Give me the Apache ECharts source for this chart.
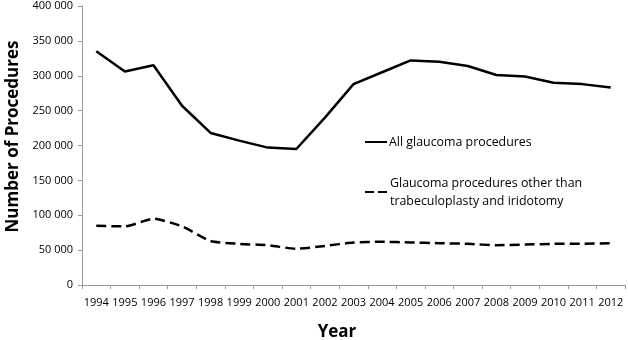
<!DOCTYPE html>
<html><head><meta charset="utf-8">
<script src="https://cdn.jsdelivr.net/npm/echarts@6/dist/echarts.min.js"></script>
<style>html,body{margin:0;padding:0;background:#fff}#c{width:628px;height:340px}</style>
</head><body><div id="c"></div>
<script>
var years = ['1994','1995','1996','1997','1998','1999','2000','2001','2002','2003','2004','2005','2006','2007','2008','2009','2010','2011','2012'];
var allProcedures = [335000,306000,315000,257000,218000,207000,197000,195000,240000,288000,305000,322000,320000,314000,301000,299000,290000,288000,283000];
var otherProcedures = [85000,84000,95000,84000,63000,59000,57000,52000,56000,61000,62000,61000,60000,59000,57000,58000,59000,59000,60000];
var yTicks = {min:0, max:400000, interval:50000};
var seriesNames = ['All glaucoma procedures','Glaucoma procedures other than trabeculoplasty and iridotomy'];

var FONT = '"Open Sans", sans-serif';
var chart = echarts.init(document.getElementById('c'), null, {renderer:'canvas'});
chart.setOption({
  animation:false,
  backgroundColor:'#fff',
  grid:{left:82,right:3,top:6,bottom:55,containLabel:false,outerBoundsMode:'none'},
  legend:[{
    data:[seriesNames[0]],
    left:365, top:136, padding:0, itemWidth:22, itemHeight:2.5, itemGap:0,
    icon:'path://M0,0H22V2H0Z',
    textStyle:{fontFamily:FONT,fontSize:12.4,color:'#000',padding:[0,0,0,-3]}
  },{
    data:[seriesNames[1]],
    left:365, top:165, padding:0, itemWidth:22, itemHeight:2.5,
    icon:'path://M0,0H9V2H0Z M13,0H22V2H13Z',
    formatter:function(){return 'Glaucoma procedures other than\ntrabeculoplasty and iridotomy';},
    textStyle:{fontFamily:FONT,fontSize:12.4,color:'#000',lineHeight:18,padding:[18,0,0,-2]}
  }],
  xAxis:{
    type:'category', data:years, boundaryGap:true,
    name:'Year', nameLocation:'middle', nameGap:39,
    nameTextStyle:{fontFamily:FONT,fontSize:17,fontWeight:'bold',color:'#000',padding:[0,33,0,0]},
    axisLine:{lineStyle:{color:'#999',width:1}},
    axisTick:{show:true,alignWithLabel:false,length:4,lineStyle:{color:'#999'}},
    axisLabel:{fontFamily:FONT,fontSize:11,color:'#000',margin:12,interval:0}
  },
  yAxis:{
    type:'value', min:yTicks.min, max:yTicks.max, interval:yTicks.interval,
    name:'Number of Procedures', nameLocation:'middle', nameGap:58, nameRotate:90,
    nameTextStyle:{fontFamily:FONT,fontSize:17,fontWeight:'bold',color:'#000',padding:[0,0,0,18]},
    axisLine:{show:true,lineStyle:{color:'#999',width:1}},
    axisTick:{show:true,length:4,lineStyle:{color:'#999'}},
    splitLine:{show:false},
    axisLabel:{fontFamily:FONT,fontSize:11,color:'#000',margin:9,
      formatter:function(v){return String(v).replace(/\B(?=(\d{3})+(?!\d))/g,' ');}}
  },
  series:[{
    name:seriesNames[0], type:'line', data:allProcedures, showSymbol:false, symbol:'none',
    lineStyle:{color:'#000',width:2.5}, itemStyle:{color:'#000'}
  },{
    name:seriesNames[1], type:'line', data:otherProcedures, showSymbol:false, symbol:'none',
    smooth:0.2,
    lineStyle:{color:'#000',width:2.5,type:[10,5]}, itemStyle:{color:'#000'}
  }]
});
</script></body></html>
